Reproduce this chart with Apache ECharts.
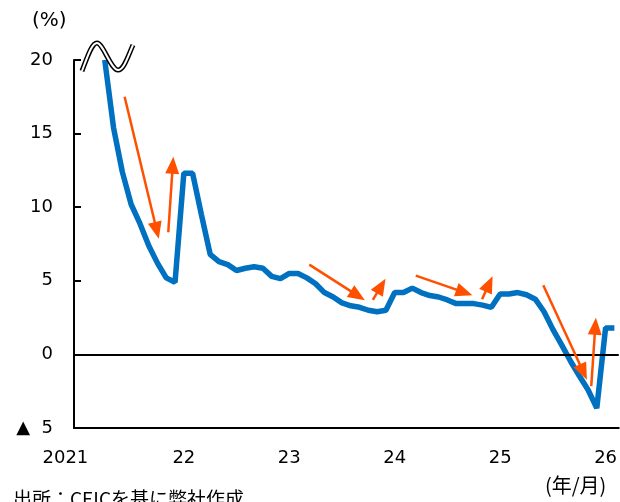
<!DOCTYPE html>
<html>
<head>
<meta charset="utf-8">
<script src="https://cdn.jsdelivr.net/npm/echarts@6/dist/echarts.min.js"></script>
<style>
  html, body { margin: 0; padding: 0; background: #fff; }
  #main { width: 620px; height: 502px; }
</style>
</head>
<body>
<div id="main"></div>
<script>
// 月次カテゴリ（2021/01〜2026/02）
var months = [];
for (var y = 2021; y <= 2026; y++) {
    for (var m = 1; m <= 12; m++) {
        if (y === 2026 && m > 2) break;
        months.push(y + '/' + (m < 10 ? '0' + m : m));
    }
}

// 前年比（%）、20超は切り取り
var values = [
    null, null, null, 20, 15.4, 12.4, 10.2, 8.9, 7.4, 6.2, 5.2, 4.9,
    12.3, 12.3, 9.5, 6.8, 6.3, 6.1, 5.7, 5.85, 5.95, 5.85, 5.3, 5.15,
    5.5, 5.5, 5.2, 4.8, 4.2, 3.9, 3.5, 3.3, 3.2, 3.0, 2.9, 3.0,
    4.2, 4.2, 4.5, 4.2, 4.0, 3.9, 3.7, 3.45, 3.45, 3.45, 3.35, 3.2,
    4.1, 4.1, 4.2, 4.05, 3.75, 2.9, 1.7, 0.65, -0.45, -1.45, -2.4, -3.65,
    1.8, 1.8
];

// 矢印（月数, %）始点と矢じり中心
var arrowFrom = [[5.76, 17.5], [10.73, 8.3], [26.78, 6.1], [34.01, 3.7], [38.9, 5.35], [46.44, 3.75], [53.41, 4.7], [58.87, -2.15]];
var arrowTo   = [[9.42, 8.42], [11.24, 12.85], [32.29, 3.99], [34.96, 4.65], [44.43, 4.21], [47.24, 4.79], [57.97, -1.2], [59.33, 1.91]];

var yTicks = [-5, 0, 5, 10, 15, 20];

var FONT = 'DejaVu Sans';
var JP = 'Noto Sans CJK JP';

var myChart = echarts.init(document.getElementById('main'));

var arrowData = arrowFrom.map(function (p, i) {
    return [{ coord: p }, { coord: arrowTo[i] }];
});

// 波線（軸の省略記号）
var waveSegs = [
    { x1: 82, y1: 71, cpx1: 88, cpy1: 55, cpx2: 92, cpy2: 43, x2: 97, y2: 43 },
    { x1: 97, y1: 43, cpx1: 103, cpy1: 43, cpx2: 111, cpy2: 70, x2: 118, y2: 70 },
    { x1: 118, y1: 70, cpx1: 124, cpy1: 70, cpx2: 128, cpy2: 56, x2: 133, y2: 45 }
];
var waveGraphics = [];
waveSegs.forEach(function (s) {
    waveGraphics.push({ type: 'bezierCurve', z: 10, shape: s, style: { fill: null, stroke: '#000', lineWidth: 5 } });
});
waveSegs.forEach(function (s) {
    waveGraphics.push({ type: 'bezierCurve', z: 11, shape: s, style: { fill: null, stroke: '#fff', lineWidth: 2 } });
});

var option = {
    animation: false,
    grid: { left: 74, top: 60, width: 549, height: 368 },
    xAxis: [{
        type: 'category',
        data: months,
        boundaryGap: true,
        axisLine: { onZero: false, lineStyle: { color: '#000', width: 2 } },
        axisTick: { interval: 11, alignWithLabel: false, length: 5, lineStyle: { color: '#000', width: 2 } },
        axisLabel: {
            interval: 11,
            margin: 21,
            color: '#000',
            fontFamily: FONT,
            fontSize: 18,
            formatter: function (v, i) {
                if (i === 0) return '{first|2021}';
                return v.slice(2, 4);
            },
            rich: {
                first: { fontFamily: FONT, fontSize: 18, color: '#000', padding: [0, 26, 0, 0] }
            }
        },
        splitLine: { show: false }
    }, {
        type: 'value',
        min: 0,
        max: 62,
        show: false
    }],
    yAxis: {
        type: 'value',
        min: yTicks[0],
        max: yTicks[yTicks.length - 1],
        interval: 5,
        axisLine: { show: true, lineStyle: { color: '#000', width: 2 } },
        axisTick: { show: true, inside: true, length: 7, lineStyle: { color: '#000', width: 2 } },
        axisLabel: {
            margin: 21,
            color: '#000',
            fontFamily: FONT,
            fontSize: 18,
            formatter: function (v) { return v < 0 ? '▲  ' + (-v) : String(v); }
        },
        splitLine: { show: false }
    },
    series: [{
        type: 'line',
        data: values,
        symbol: 'none',
        lineStyle: { color: '#0070C0', width: 5.5 },
        z: 3,
        markLine: {
            silent: true,
            symbol: ['none', 'none'],
            label: { show: false },
            lineStyle: { color: '#000', width: 2, type: 'solid' },
            data: [{ yAxis: 0 }]
        }
    }, {
        type: 'line',
        xAxisIndex: 1,
        data: [],
        z: 4,
        markLine: {
            silent: true,
            symbol: ['none', 'triangle'],
            symbolSize: [14, 17],
            label: { show: false },
            lineStyle: { color: '#FF5000', width: 2.5, type: 'solid' },
            data: arrowData
        }
    }],
    graphic: waveGraphics.concat([
        { type: 'text', left: 32, top: 11, z: 10,
          style: { text: '(%)', fontFamily: FONT, fontSize: 20, fill: '#000' } },
        { type: 'text', left: 545, top: 475, z: 10,
          style: { text: '(年/月)', fontFamily: JP, fontSize: 20, fill: '#000' } },
        { type: 'text', left: 13, top: 489, z: 10,
          style: { text: '出所：CEICを基に弊社作成', fontFamily: JP, fontSize: 19, fill: '#000' } }
    ])
};

myChart.setOption(option);
</script>
</body>
</html>
